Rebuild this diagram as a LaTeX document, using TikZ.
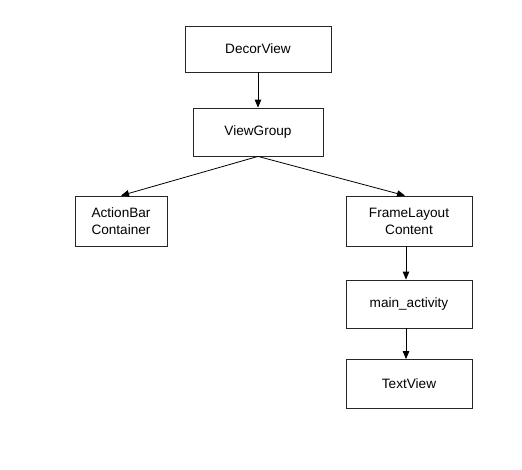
\documentclass[tikz,border=0pt]{standalone}
\usepackage{fontspec}
\setmainfont{Liberation Sans}
\usetikzlibrary{arrows.meta}
\begin{document}
\begin{tikzpicture}[x=1pt,y=-1pt,
  box/.style={draw=black!85,line width=0.8pt,rectangle,inner sep=0pt,align=center,
    font=\fontsize{13.6}{17}\selectfont},
  conn/.style={draw=black,line width=0.8pt,-{Triangle[length=8pt,width=6.5pt]}}]
\useasboundingbox (0,0) rectangle (522,469);
\node[box,minimum width=146pt,minimum height=46pt] (decor) at (258,49) {DecorView};
\node[box,minimum width=130pt,minimum height=48pt] (vg) at (258,132) {ViewGroup};
\node[box,minimum width=92pt,minimum height=50pt] (ab) at (121,221) {ActionBar\\Container};
\node[box,minimum width=126pt,minimum height=50pt] (fl) at (409,221) {FrameLayout\\Content};
\node[box,minimum width=126pt,minimum height=48pt] (ma) at (409,304) {main\_activity};
\node[box,minimum width=126pt,minimum height=49pt] (tv) at (409,384) {TextView};
\draw[conn] (decor.south) -- (vg.north);
\draw[conn] (vg.south) -- (ab.north);
\draw[conn] (vg.south) -- ([xshift=-4pt]fl.north);
\draw[conn] ([xshift=-3pt]fl.south) -- ([xshift=-3pt]ma.north);
\draw[conn] ([xshift=-3pt]ma.south) -- ([xshift=-3pt]tv.north);
\end{tikzpicture}
\end{document}
